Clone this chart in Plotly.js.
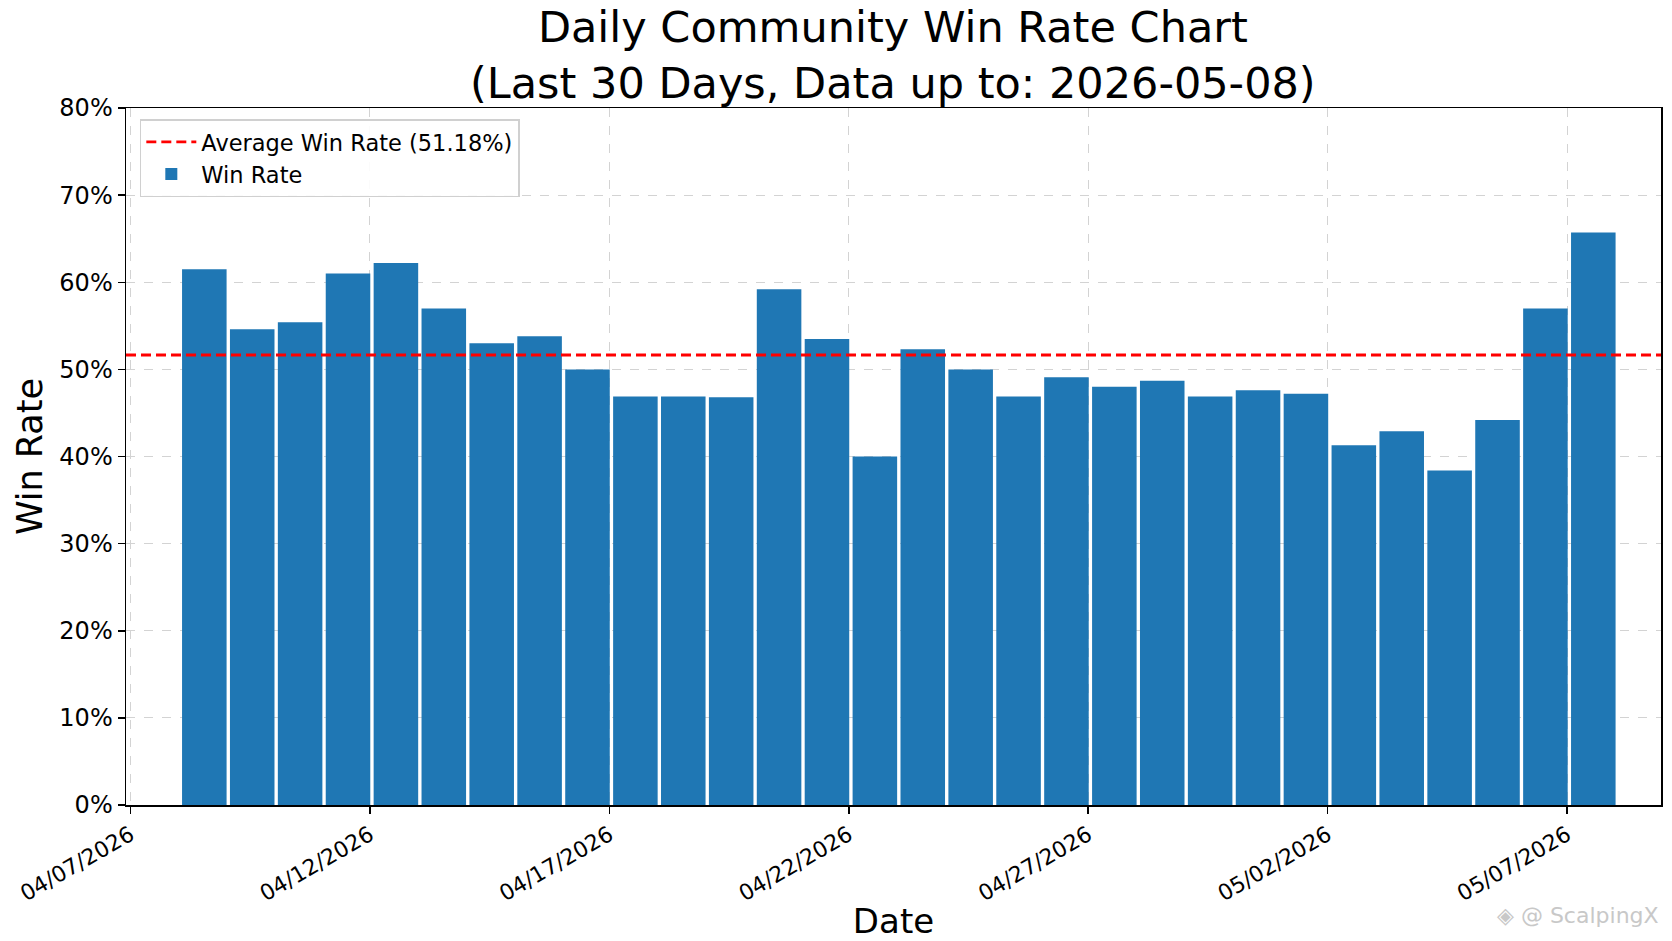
<!DOCTYPE html>
<html>
<head>
<meta charset="utf-8">
<script src="https://cdn.plot.ly/plotly-3.0.1.min.js"></script>
<style>html,body{margin:0;padding:0;background:#fff;}#chart{width:1672px;height:941px;}</style>
</head>
<body>
<div id="chart"></div>
<script>
const dates = ['2026-04-08','2026-04-09','2026-04-10','2026-04-11','2026-04-12','2026-04-13','2026-04-14','2026-04-15','2026-04-16','2026-04-17',
               '2026-04-18','2026-04-19','2026-04-20','2026-04-21','2026-04-22','2026-04-23','2026-04-24','2026-04-25','2026-04-26','2026-04-27',
               '2026-04-28','2026-04-29','2026-04-30','2026-05-01','2026-05-02','2026-05-03','2026-05-04','2026-05-05','2026-05-06','2026-05-07'];
const winRates = [61.5,54.6,55.4,61.0,62.2,57.0,53.0,53.8,50.0,46.9,
                  46.9,46.8,59.2,53.5,40.0,52.3,50.0,46.9,49.1,48.0,
                  48.7,46.9,47.6,47.2,41.3,42.9,38.4,44.2,57.0,65.7];
const averageLabel = '51.18%';
const averageLevel = 51.65;
const xRange = ['2026-04-06 21:50','2026-05-08 23:00'];
const xTickVals = ['2026-04-07','2026-04-12','2026-04-17','2026-04-22','2026-04-27','2026-05-02','2026-05-07'];
const xTickText = ['04/07/2026','04/12/2026','04/17/2026','04/22/2026','04/27/2026','05/02/2026','05/07/2026'];
const yTickVals = [0,10,20,30,40,50,60,70,80];
const yTickText = ['0%','10%','20%','30%','40%','50%','60%','70%','80%'];

const DAY = 86400000;
const font = 'DejaVu Sans, sans-serif';

const avgTrace = {
  type: 'scatter', mode: 'lines',
  x: xRange, y: [averageLevel, averageLevel],
  name: 'Average Win Rate (' + averageLabel + ')',
  line: {color: '#ff0000', width: 2.8, dash: '10px,5px'},
  hoverinfo: 'skip'
};
const barTrace = {
  type: 'bar', x: dates, y: winRates, name: 'Win Rate',
  marker: {color: '#1f77b4', line: {width: 0}},
  width: 0.93 * DAY, offset: 0.08 * DAY
};

const layout = {
  width: 1672, height: 941,
  paper_bgcolor: '#ffffff', plot_bgcolor: '#ffffff',
  margin: {l: 126, r: 11, t: 108, b: 136},
  font: {family: font, color: '#000'},
  title: {
    text: 'Daily Community Win Rate Chart<br>(Last 30 Days, Data up to: 2026-05-08)',
    font: {family: font, size: 43, color: '#000'},
    x: 0.534, xanchor: 'center', y: 0.955, yanchor: 'top', yref: 'container'
  },
  showlegend: true,
  legend: {
    x: 0.009, y: 0.984, xanchor: 'left', yanchor: 'top',
    bgcolor: 'rgba(255,255,255,0.9)', bordercolor: '#d0d0d0', borderwidth: 1.5,
    font: {family: font, size: 22.5, color: '#000'},
    traceorder: 'normal', itemwidth: 50, tracegroupgap: 6
  },
  xaxis: {
    type: 'date', range: xRange,
    tickmode: 'array', tickvals: xTickVals, ticktext: xTickText,
    tickangle: -30, tickfont: {family: font, size: 22, color: '#000'},
    ticks: 'outside', ticklen: 7, tickwidth: 1.5, tickcolor: '#000',
    showline: true, linecolor: '#000', linewidth: 1.5, mirror: true,
    showgrid: true, gridcolor: '#d3d3d3', griddash: 'dash', gridwidth: 1,
    zeroline: false,
    title: {text: 'Date', font: {family: font, size: 34, color: '#000'}, standoff: 0}
  },
  yaxis: {
    range: [0, 80], tickmode: 'array', tickvals: yTickVals, ticktext: yTickText,
    tickfont: {family: font, size: 24, color: '#000'},
    ticks: 'outside', ticklen: 7, tickwidth: 1.5, tickcolor: '#000',
    showline: true, linecolor: '#000', linewidth: 1.5, mirror: true,
    showgrid: true, gridcolor: '#d3d3d3', griddash: 'dash', gridwidth: 1,
    zeroline: false,
    title: {text: 'Win Rate', font: {family: font, size: 35, color: '#000'}, standoff: 6}
  },
  annotations: [{
    text: '◈ @ ScalpingX', xref: 'paper', yref: 'paper', x: 1.0, y: -0.158,
    xanchor: 'right', yanchor: 'middle', showarrow: false,
    font: {family: font, size: 22, color: '#c8c8c8'}
  }]
};

Plotly.newPlot('chart', [avgTrace, barTrace], layout, {displayModeBar: false, staticPlot: true});
</script>
</body>
</html>
